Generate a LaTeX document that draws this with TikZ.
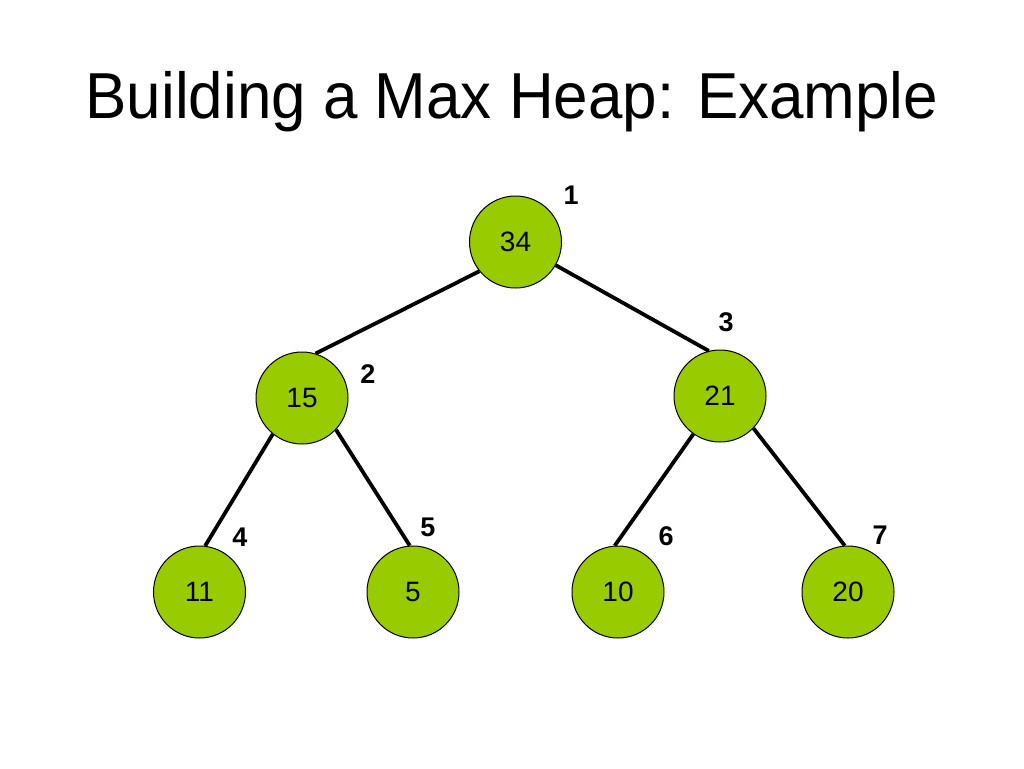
\documentclass[tikz,border=0pt]{standalone}
\usepackage{fontspec}
\setmainfont{Liberation Sans}
\definecolor{heapgreen}{RGB}{153,204,0}
\begin{document}
\begin{tikzpicture}[x=1pt,y=-1pt,
  heapnode/.style={circle, draw=black, line width=1pt, fill=heapgreen, minimum size=92pt, inner sep=0pt, font=\fontsize{28}{32}\selectfont},
  idxlabel/.style={font=\fontsize{27}{31}\selectfont\bfseries, inner sep=0pt},
  edge/.style={line width=3.8pt, black}]
\useasboundingbox (0,0) rectangle (1024,768);
\node[anchor=base, inner sep=0pt, font=\fontsize{65}{72}\selectfont] (title) at (512,118) {\scalebox{0.953}[1]{Building a Max Heap: Example}};
\node[heapnode] (n34) at (515.5,242) {34};
\node[heapnode] (n15) at (302,398) {15};
\node[heapnode] (n21) at (720,396) {21};
\node[heapnode] (n11) at (199.5,592) {11};
\node[heapnode] (n5) at (413,592) {5};
\node[heapnode] (n10) at (618,592) {10};
\node[heapnode] (n20) at (848,592) {20};
\draw[edge] (n34.219) -- (n15.73);
\draw[edge] (n34.330) -- (n21.104);
\draw[edge] (n15.231) -- (n11.83);
\draw[edge] (n15.317) -- (n5.94);
\draw[edge] (n21.235) -- (n10.94);
\draw[edge] (n21.316) -- (n20.94);
\node[idxlabel] (l1) at (571,195) {1};
\node[idxlabel] (l2) at (368,374) {2};
\node[idxlabel] (l3) at (726,322) {3};
\node[idxlabel] (l4) at (240,537) {4};
\node[idxlabel] (l5) at (428,527) {5};
\node[idxlabel] (l6) at (666,536) {6};
\node[idxlabel] (l7) at (880,535) {7};
\end{tikzpicture}
\end{document}
